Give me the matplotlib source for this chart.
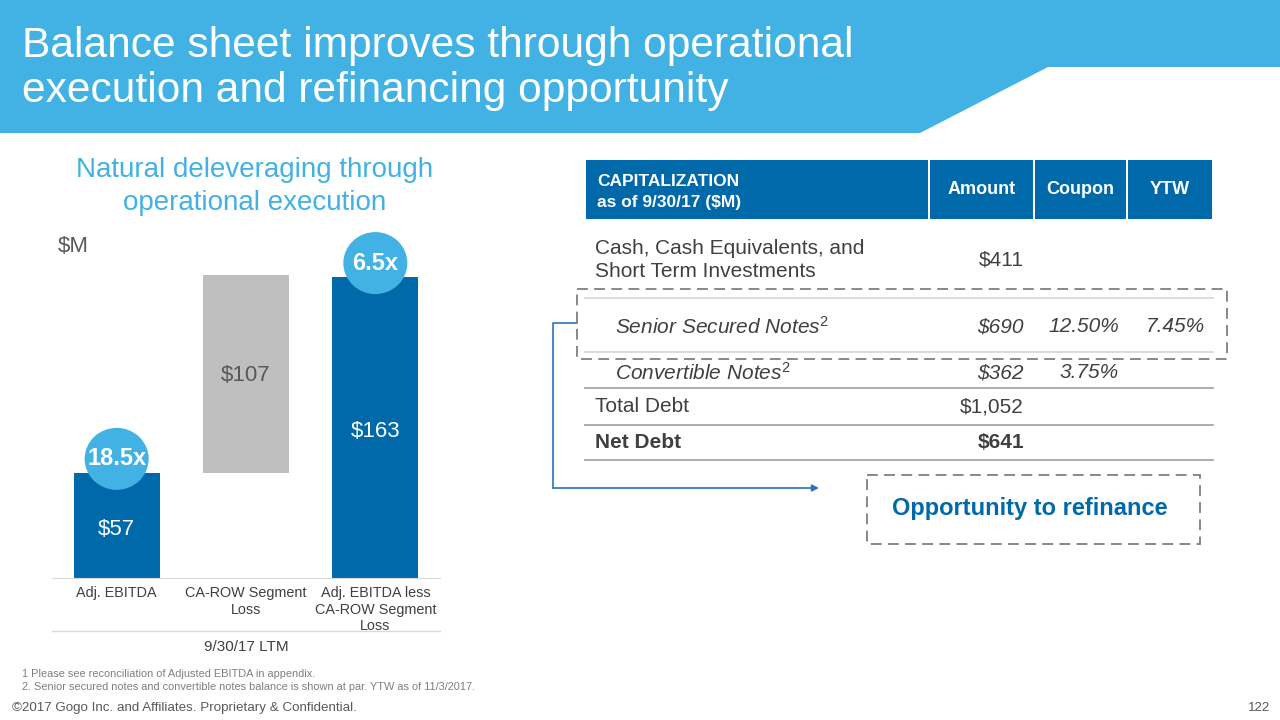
import matplotlib
matplotlib.use("Agg")
import matplotlib.pyplot as plt
from matplotlib.patches import Polygon, Rectangle, Ellipse

plt.rcParams['font.family'] = ['Liberation Sans', 'DejaVu Sans']
plt.rcParams['mathtext.fontset'] = 'custom'
plt.rcParams['mathtext.rm'] = 'Liberation Sans'
plt.rcParams['mathtext.it'] = 'Liberation Sans:italic'

# ---- data ----
categories = ["Adj. EBITDA", "CA-ROW Segment\nLoss", "Adj. EBITDA less\nCA-ROW Segment\nLoss"]
bar_values = [57, 107, 163]
bar_labels = ["$57", "$107", "$163"]
leverage = ["18.5x", None, "6.5x"]
period_label = "9/30/17 LTM"

table_cols = ["Amount", "Coupon", "YTW"]
row_names = ["Cash, Cash Equivalents, and\nShort Term Investments",
             "Senior Secured Notes$^2$", "Convertible Notes$^2$",
             "Total Debt", "Net Debt"]
row_amount = ["$411", "$690", "$362", "$1,052", "$641"]
row_coupon = ["", "12.50%", "3.75%", "", ""]
row_ytw = ["", "7.45%", "", "", ""]

DARK = "#0069AA"
LIGHT = "#41B2E3"
GRAY_BAR = "#BFBFBF"
TXT = "#404040"

fig = plt.figure(figsize=(12.8, 7.2), dpi=100)

# overlay in pixel coordinates
ov = fig.add_axes([0, 0, 1, 1])
ov.set_xlim(0, 1280)
ov.set_ylim(720, 0)
ov.axis('off')

# header band
ov.add_patch(Polygon([(0, 0), (1280, 0), (1280, 67), (1048, 67), (920, 133), (0, 133)],
                     closed=True, facecolor=LIGHT, edgecolor='none'))
ov.text(22, 57, "Balance sheet improves through operational", color='white',
        fontsize=30.6, va='baseline', ha='left')
ov.text(22, 102, "execution and refinancing opportunity", color='white',
        fontsize=30.6, va='baseline', ha='left')

# subtitle
ov.text(255, 177, "Natural deleveraging through", color=LIGHT, fontsize=20,
        ha='center', va='baseline')
ov.text(255, 210, "operational execution", color=LIGHT, fontsize=20,
        ha='center', va='baseline')
ov.text(58, 252, "$M", color="#595959", fontsize=16, va='baseline')

# ---- bar chart ----
ax = fig.add_axes([52 / 1280, 1 - 578 / 720, 388 / 1280, 348 / 720])
ax.set_xlim(-0.5, 2.5)
ax.set_ylim(0, 348 / 1.847)
xs = list(range(len(categories)))
bottoms = [0, bar_values[0], 0]
colors = [DARK, GRAY_BAR, DARK]
ax.bar(xs, bar_values, bottom=bottoms, width=0.665, color=colors, zorder=2)
for i, (v, b, lab) in enumerate(zip(bar_values, bottoms, bar_labels)):
    c = "#595959" if colors[i] == GRAY_BAR else 'white'
    ax.text(i, b + v * 0.5 + [-2, -1, -2][i], lab,
            ha='center', va='center', fontsize=16, color=c, zorder=4)
for i, m in enumerate(leverage):
    if m is None:
        continue
    top = bottoms[i] + bar_values[i]
    ax.add_patch(Ellipse((i, top + 7.5), 64 / 129.3, 62 / 1.847, facecolor=LIGHT,
                         edgecolor='none', zorder=3, clip_on=False))
    ax.text(i, top + 7.5, m, ha='center', va='center', fontsize=17,
            fontweight='bold', color='white', zorder=4, clip_on=False)
for s in ['top', 'right', 'left']:
    ax.spines[s].set_visible(False)
ax.spines['bottom'].set_color('#D9D9D9')
ax.set_yticks([])
ax.set_xticks(xs)
ax.set_xticklabels(categories, fontsize=10.4, color=TXT, linespacing=1.2)
ax.tick_params(axis='x', length=0, pad=6)
ax.patch.set_alpha(0)

ov.plot([52, 440], [631, 631], color='#D9D9D9', lw=1)
ov.text(246, 651, period_label, ha='center', va='baseline', fontsize=11, color=TXT)

# footnotes
ov.text(22, 677, "1 Please see reconciliation of Adjusted EBITDA in appendix.",
        fontsize=7.9, color='#7F7F7F', va='baseline')
ov.text(22, 690, "2. Senior secured notes and convertible notes balance is shown at par. YTW as of 11/3/2017.",
        fontsize=7.9, color='#7F7F7F', va='baseline')
ov.text(12, 711, "\u00a92017 Gogo Inc. and Affiliates. Proprietary & Confidential.",
        fontsize=9.6, color='#595959', va='baseline')
ov.text(1270, 711, "122", fontsize=9.6, color='#595959', va='baseline', ha='right')

# ---- capitalization table ----
col_edges = [585, 929, 1034, 1127, 1213]
for x0, x1 in zip(col_edges[:-1], col_edges[1:]):
    ov.add_patch(Rectangle((x0 + 1, 160), x1 - x0 - 2, 59, facecolor=DARK, edgecolor='none'))
ov.text(597, 186, "CAPITALIZATION", color='white', fontsize=12.5, fontweight='bold', va='baseline')
ov.text(597, 207, "as of 9/30/17 ($M)", color='white', fontsize=12.5, fontweight='bold', va='baseline')
for j, name in enumerate(table_cols):
    cx = (col_edges[j + 1] + col_edges[j + 2]) / 2
    ov.text(cx, 190, name, color='white', fontsize=13, fontweight='bold', ha='center', va='center')

row_y = [260, 327, 373, 407, 443]
row_x = [595, 615, 615, 595, 595]
amount_right, coupon_right, ytw_right = 1024, 1119, 1205
for k in range(len(row_names)):
    style = 'italic' if row_x[k] == 615 else 'normal'
    weight = 'bold' if row_names[k] == "Net Debt" else 'normal'
    ov.text(row_x[k], row_y[k], row_names[k], fontsize=15, color=TXT, style=style,
            fontweight=weight, va='center', linespacing=1.25)
    ov.text(amount_right, row_y[k], row_amount[k], fontsize=15, color=TXT, style=style,
            fontweight=weight, va='center', ha='right')
    ov.text(coupon_right, row_y[k], row_coupon[k], fontsize=15, color=TXT, style=style,
            va='center', ha='right')
    ov.text(ytw_right, row_y[k], row_ytw[k], fontsize=15, color=TXT, style=style,
            va='center', ha='right')

for y, c in [(298, '#D9D9D9'), (352, '#D9D9D9'), (388, '#A6A6A6'), (425, '#A6A6A6'), (460, '#A6A6A6')]:
    ov.plot([585, 1213], [y, y], color=c, lw=1.3)

# dashed highlight and connector
ov.add_patch(Rectangle((577, 289), 650, 70, facecolor='none', edgecolor='#7F7F7F',
                       lw=1.3, linestyle=(0, (6, 3.5))))
ov.plot([577, 553, 553], [323, 323, 488], color='#2E75B6', lw=1.2)
ov.annotate("", xy=(819, 488), xytext=(553, 488),
            arrowprops=dict(arrowstyle='-|>', color='#2E75B6', lw=1.2,
                            shrinkA=0, shrinkB=0, mutation_scale=10))

ov.add_patch(Rectangle((867, 475), 333, 69, facecolor='none', edgecolor='#7F7F7F',
                       lw=1.3, linestyle=(0, (6, 3.5))))
ov.text(1030, 509, "Opportunity to refinance", color=DARK, fontsize=17,
        fontweight='bold', ha='center', va='center')

fig.savefig("out.png", dpi=100)
